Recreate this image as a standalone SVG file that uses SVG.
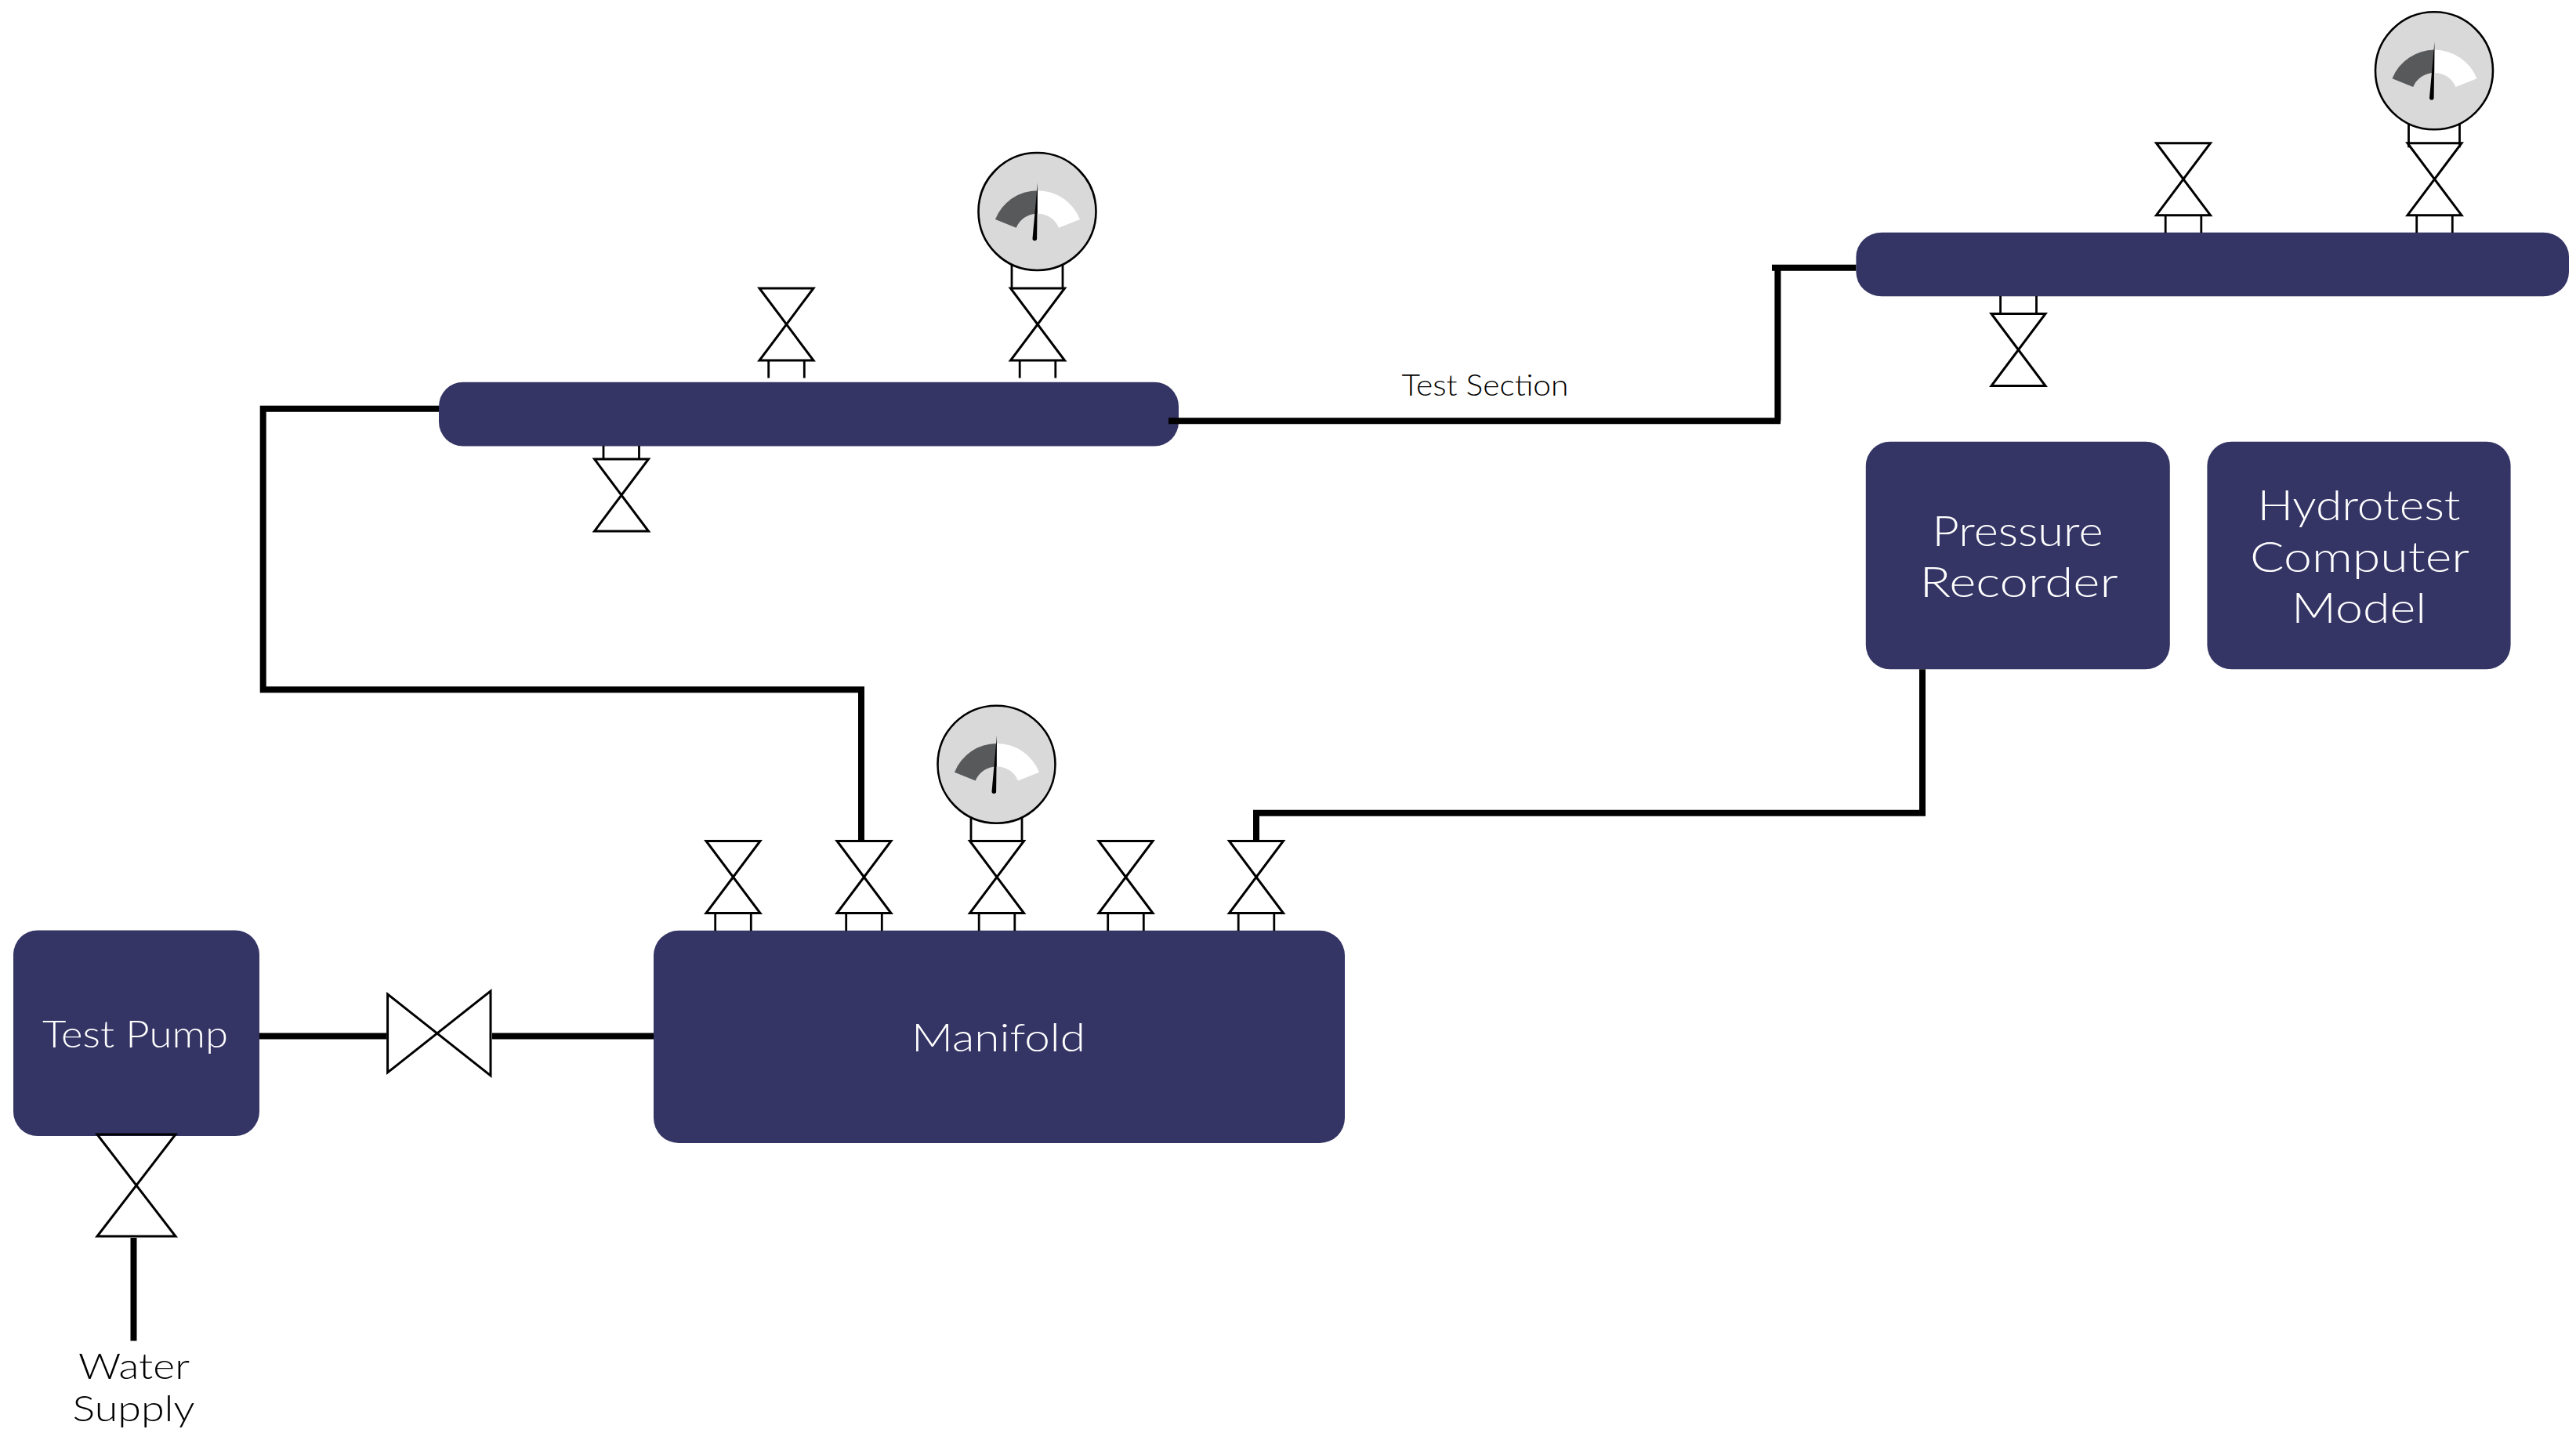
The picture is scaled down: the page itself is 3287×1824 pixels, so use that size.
<svg xmlns="http://www.w3.org/2000/svg" width="3287" height="1824" viewBox="0 0 3287 1824">
<style>
.box{fill:#343465}
.lbl{font-family:"Lato","Open Sans","Liberation Sans",sans-serif;font-weight:300;text-anchor:middle}
.w{fill:#fff}.k{fill:#000}
.v{fill:none;stroke:#000;stroke-width:3;stroke-linejoin:miter}
.s{fill:none;stroke:#000;stroke-width:2.8}
.pipe{fill:none;stroke:#000;stroke-width:8;stroke-linejoin:miter;stroke-linecap:butt}
</style>
<defs>
<path id="valve" class="v" d="M-34.5,-46H34.5L-34.5,46H34.5Z"/>
<path id="stubs" class="s" d="M-22.8,0V22M22.8,0V22"/>
<g id="gauge">
<path class="s" d="M-32.5,65V98M32.5,65V98"/>
<circle r="75" fill="#d9d9d9" stroke="#000" stroke-width="2.6"/>
<path fill="#58595b" d="M0.5,-26.7A58,58 0 0 0 -53.5,10L-26.8,20.7A29,29 0 0 1 0.5,2.7Z"/>
<path fill="#fff" d="M0.5,-26.7A58,58 0 0 1 54.5,10L27.5,20.7A29,29 0 0 0 0.5,2.7Z"/>
<path fill="#000" d="M0.5,-37L-0.4,34.5A2.8,2.8 0 0 1 -6,34.5Z"/>
</g>
</defs>
<rect width="3287" height="1824" fill="#fff"/>
<g id="test-pump">
<rect class="box" x="17" y="1187.5" width="314" height="262.5" rx="31"/>
<text class="lbl w" x="172.5" y="1336.5" font-size="47" textLength="237" lengthAdjust="spacingAndGlyphs">Test Pump</text>
</g>
<g id="manifold">
<rect class="box" x="834" y="1187.7" width="882" height="271.3" rx="32"/>
<text class="lbl w" x="1274" y="1342" font-size="50" textLength="222" lengthAdjust="spacingAndGlyphs">Manifold</text>
</g>
<g id="pressure-recorder">
<rect class="box" x="2380.8" y="563.7" width="388" height="290.6" rx="31"/>
<text class="lbl w" x="2574.5" y="696.7" font-size="54" textLength="218" lengthAdjust="spacingAndGlyphs">Pressure</text>
<text class="lbl w" x="2576" y="761.7" font-size="54" textLength="253" lengthAdjust="spacingAndGlyphs">Recorder</text>
</g>
<g id="hydrotest-model">
<rect class="box" x="2816.4" y="563.7" width="387.2" height="290.6" rx="31"/>
<text class="lbl w" x="3010" y="664.3" font-size="54" textLength="259" lengthAdjust="spacingAndGlyphs">Hydrotest</text>
<text class="lbl w" x="3011" y="730" font-size="54" textLength="280" lengthAdjust="spacingAndGlyphs">Computer</text>
<text class="lbl w" x="3010" y="795" font-size="54" textLength="172" lengthAdjust="spacingAndGlyphs">Model</text>
</g>
<g id="header-1">
<rect class="box" x="560" y="487.7" width="944" height="81.8" rx="31" ry="31"/>
</g>
<g id="header-2">
<rect class="box" x="2368.4" y="296.7" width="909.6" height="81.6" rx="33" ry="31"/>
</g>
<g id="valve-pump-line"><path class="v" d="M494.6,1269L626,1373V1265L494.6,1369Z"/></g>
<g id="valve-water"><path class="v" d="M124,1448H224L124,1578H224Z"/></g>
<g id="valve-m1"><use href="#valve" x="935.5" y="1119.5"/><use href="#stubs" x="935.5" y="1166"/></g>
<g id="valve-m2"><use href="#valve" x="1102.5" y="1119.5"/><use href="#stubs" x="1102.5" y="1166"/></g>
<g id="gauge-manifold"><use href="#gauge" x="1271.5" y="975.7"/><use href="#valve" x="1272" y="1119.5"/><use href="#stubs" x="1272" y="1166"/></g>
<g id="valve-m4"><use href="#valve" x="1436.5" y="1119.5"/><use href="#stubs" x="1436.5" y="1166"/></g>
<g id="valve-m5"><use href="#valve" x="1603" y="1119.5"/><use href="#stubs" x="1603" y="1166"/></g>
<g id="valve-h1-top"><use href="#valve" x="1003.5" y="414"/><use href="#stubs" x="1003.5" y="460.5"/></g>
<g id="gauge-h1"><use href="#gauge" x="1323.5" y="270"/><use href="#valve" x="1324" y="414"/><use href="#stubs" x="1324" y="460.5"/></g>
<g id="valve-h1-bottom"><use href="#valve" x="793" y="632"/><path class="s" d="M770,569V586M815.5,569V586"/></g>
<g id="valve-h2-bottom"><use href="#valve" x="2575.5" y="446.5"/><path class="s" d="M2552.6,378V401M2598.5,378V401"/></g>
<g id="valve-h2-top"><use href="#valve" x="2786" y="228.7"/><use href="#stubs" x="2786" y="275"/></g>
<g id="gauge-h2"><use href="#gauge" x="3106" y="90.3"/><use href="#valve" x="3106.5" y="228.7"/><use href="#stubs" x="3106.5" y="275"/></g>
<g id="connectors">
<path class="pipe" d="M331,1322.5H493M628,1322.5H834"/>
<path class="pipe" d="M170.5,1580V1711.5"/>
<path class="pipe" d="M560,521.7H331.7M335.7,517.7V880.3H1099V1072"/>
<path class="pipe" d="M1491,537.3H2272M2268.4,537.3V341.7M2261,341.7H2368.4"/>
<path class="pipe" d="M1603,1072V1037.7H2453V854.3"/>
</g>
<text id="label-test-section" class="lbl k" x="1895" y="504.7" font-size="38" textLength="213" lengthAdjust="spacingAndGlyphs">Test Section</text>
<text id="label-water" class="lbl k" x="171" y="1760" font-size="46" textLength="142" lengthAdjust="spacingAndGlyphs">Water</text>
<text id="label-supply" class="lbl k" x="170.5" y="1814" font-size="46" textLength="156" lengthAdjust="spacingAndGlyphs">Supply</text>
</svg>
